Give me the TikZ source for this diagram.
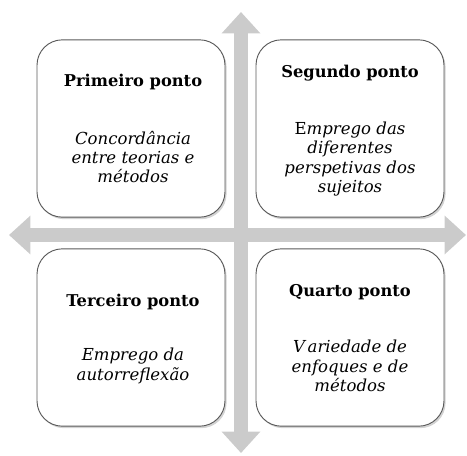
\documentclass[tikz,border=0pt]{standalone}
\usepackage{fontspec}
\setmainfont{DejaVu Serif}
\usepackage{xcolor}
\usepackage{tikz}
\usetikzlibrary{arrows.meta, positioning, shadows}

\definecolor{setacinza}{HTML}{CBCBCB}
\definecolor{bordacinza}{HTML}{5A5A5A}

\begin{document}
\begin{tikzpicture}[
    x=0.75pt, y=-0.75pt,
    seta/.style={draw=setacinza, line width=10pt,
        {Triangle[width=28pt, length=16pt]}-{Triangle[width=28pt, length=16pt]}},
    ponto/.style={draw=bordacinza, line width=0.7pt, fill=white, rounded corners=19pt,
        minimum width=141pt, minimum height=133pt,
        drop shadow={opacity=0.35, shadow xshift=1.2pt, shadow yshift=-1.5pt}},
    titulo/.style={font=\fontsize{12.2}{14}\selectfont\bfseries},
    corpo/.style={font=\fontsize{12.4}{14.6}\selectfont\itshape, align=center}
]
    \useasboundingbox (0,0) rectangle (467,455);

    % eixos
    \coordinate (cima) at (241,12);
    \coordinate (baixo) at (241,453);
    \coordinate (esq) at (9,235);
    \coordinate (dir) at (466,235);
    \draw[seta] (cima) -- (baixo);
    \draw[seta] (esq) -- (dir);

    % quadrantes
    \node[ponto] (q1) at (131,128.5) {};
    \node[ponto] (q2) at (350,128.5) {};
    \node[ponto] (q3) at (131,337.5) {};
    \node[ponto] (q4) at (350,337.5) {};

    \node[titulo] (t1) at (133,82) {Primeiro ponto};
    \node[corpo] (c1) at (133,157) {Concordância\\entre teorias e\\métodos};

    \node[titulo] (t2) at (350,73) {Segundo ponto};
    \node[corpo] (c2) at (350,159) {{\upshape E}mprego das\\diferentes\\perspetivas dos\\sujeitos};

    \node[titulo] (t3) at (133,302) {Terceiro ponto};
    \node[corpo] (c3) at (133,366) {Emprego da\\autorreflexão};

    \node[titulo] (t4) at (350,292) {Quarto ponto};
    \node[corpo] (c4) at (350,366) {V\kern2pt ariedade de\\enfoques e de\\métodos};

\end{tikzpicture}
\end{document}
